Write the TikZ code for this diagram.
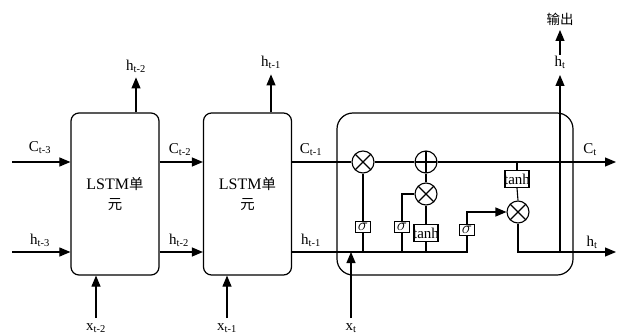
\documentclass[tikz,border=0pt]{standalone}
\usepackage{fontspec}
\setmainfont{Liberation Serif}
\newfontfamily\cjk{Noto Sans CJK SC}[Scale=0.9]
\usetikzlibrary{arrows.meta, positioning, calc}

\begin{document}
\begin{tikzpicture}[x=1pt, y=-1pt, line width=1.1pt,
        arr/.style={-{Triangle[length=11pt, width=9pt]}},
        cell/.style={rectangle, rounded corners=8pt, draw, line width=1.2pt, minimum width=88pt, minimum height=162pt, align=center, font=\fontsize{16}{20}\selectfont},
        lbl/.style={font=\fontsize{15}{17}\selectfont, inner sep=0pt},
        op/.style={circle, draw, minimum size=22pt, inner sep=0pt},
        mult/.style={op, path picture={\draw (path picture bounding box.south west) -- (path picture bounding box.north east) (path picture bounding box.north west) -- (path picture bounding box.south east);}},
        plus/.style={op, path picture={\draw (path picture bounding box.north) -- (path picture bounding box.south) (path picture bounding box.west) -- (path picture bounding box.east);}},
        gate/.style={rectangle, draw, minimum width=15pt, minimum height=11pt, inner sep=0pt, font=\fontsize{17}{17}\selectfont},
        tanhbox/.style={rectangle, draw, minimum width=24pt, minimum height=17pt, inner sep=0pt, label={[font=\fontsize{15}{15}\selectfont, inner sep=0pt]center:tanh}},
    ]
        \useasboundingbox (0,0) rectangle (617,334);

        % Cells
        \node[cell] (cell1) at (115,194) {LSTM{\cjk 单}\\{\cjk 元}};
        \node[cell] (cell2) at (247.5,194) {LSTM{\cjk 单}\\{\cjk 元}};
        \node[cell, rounded corners=16pt, minimum width=236pt] (cell3) at (455,194) {};

        % Rows of the state lines
        \coordinate (cin) at (12,162);
        \coordinate (hin) at (12,252);
        \coordinate (cout) at (616,162);
        \coordinate (hout) at (616,252);

        % Inside cell 3
        \node[mult] (mf) at (363,162) {};
        \node[plus] (add) at (426,162) {};
        \node[mult] (mi) at (426,194) {};
        \node[mult] (mo) at (518,212) {};
        \node[gate] (sigf) at (363,227) {$\sigma$};
        \node[gate] (sigi) at (402,227) {$\sigma$};
        \node[tanhbox] (tg) at (426,233) {};
        \node[gate] (sigo) at (467,230) {$\sigma$};
        \node[tanhbox] (tc) at (517,179) {};

        % Labels
        \node[lbl] (lc3) at (40,148) {C\textsubscript{t-3}};
        \node[lbl] (lh3) at (40,240) {h\textsubscript{t-3}};
        \node[lbl] (lc2) at (180,150) {C\textsubscript{t-2}};
        \node[lbl] (lh2) at (179,240) {h\textsubscript{t-2}};
        \node[lbl] (lc1) at (311,150) {C\textsubscript{t-1}};
        \node[lbl] (lh1) at (311,240) {h\textsubscript{t-1}};
        \node[lbl] (lct) at (590,150) {C\textsubscript{t}};
        \node[lbl] (lht) at (592,242) {h\textsubscript{t}};
        \node[lbl] (lo2) at (136,66) {h\textsubscript{t-2}};
        \node[lbl] (lo1) at (271,62) {h\textsubscript{t-1}};
        \node[lbl] (lot) at (560,62) {h\textsubscript{t}};
        \node[lbl, font=\cjk\fontsize{15}{17}\selectfont] (out) at (560,19) {输出};
        \node[lbl] (lx2) at (96,328) {x\textsubscript{t-2}};
        \node[lbl] (lx1) at (227,328) {x\textsubscript{t-1}};
        \node[lbl] (lxt) at (351,328) {x\textsubscript{t}};

        % Chain
        \draw[arr] (cin) -- (cin -| cell1.west);
        \draw[arr] (hin) -- (hin -| cell1.west);
        \draw[arr] (cell1.east |- cin) -- (cell2.west |- cin);
        \draw[arr] (cell1.east |- hin) -- (cell2.west |- hin);
        \draw (cell2.east |- cin) -- (mf.west);
        \draw (cell2.east |- hin) -- (hin -| sigo) -- (sigo.south);

        % Outputs and inputs
        \draw[arr] ($(cell1.north)+(21,0)$) -- ++(0,-35);
        \draw[arr] ($(cell2.north)+(23.5,0)$) -- ++(0,-38);
        \draw[arr] (96,318) -- (96,0 |- cell1.south);
        \draw[arr] (227,318) -- (227,0 |- cell2.south);
        \draw[arr] (351,318) -- (hin -| 351,0);

        % Gates
        \draw (sigf.north) -- (mf.south);
        \draw (sigf.south) -- (sigf |- hin);
        \draw (sigi.north) |- (mi.west);
        \draw (sigi.south) -- (sigi |- hin);
        \draw (tg.north) -- (mi.south);
        \draw (tg.south) -- (tg |- hin);
        \draw (mi.north) -- (add.south);
        \draw (mf.east) -- (add.west);
        \draw[arr] (add.east) -- (cout);
        \draw (tc.north) -- (tc.north |- cout);
        \draw (tc.south) -- (mo.north);
        \draw[arr] (sigo.north) |- (mo.west);
        \draw[arr] (mo.south) |- (hout);
        \draw[arr] (hout -| 560,0) -- (560,75);
        \draw[arr] (560,55) -- (560,30);
    \end{tikzpicture}
\end{document}
